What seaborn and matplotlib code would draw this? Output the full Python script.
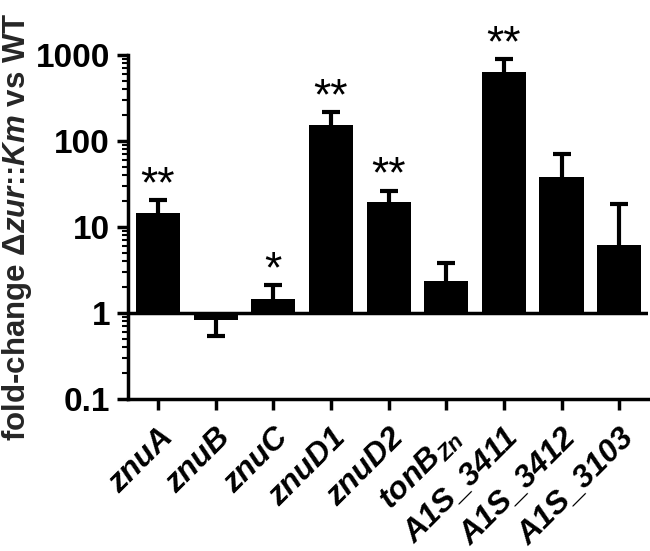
import numpy as np
import pandas as pd
import matplotlib
matplotlib.use("Agg")
import matplotlib.pyplot as plt
import seaborn as sns
from matplotlib.ticker import LogLocator, NullFormatter

genes = ["znuA", "znuB", "znuC", "znuD1", "znuD2", "tonBZn", "A1S_3411", "A1S_3412", "A1S_3103"]
tick_labels = ["znuA", "znuB", "znuC", "znuD1", "znuD2", r"tonB$_{\mathit{Zn}}$",
               "A1S_3411", "A1S_3412", "A1S_3103"]
fold_change = [14.5, 0.82, 1.45, 153, 19.6, 2.36, 626, 37.8, 6.1]
error_end = [20.7, 0.54, 2.12, 218, 26.5, 3.84, 899, 71.4, 18.3]
stars = ["**", "", "*", "**", "**", "", "**", "", ""]
y_ticks = [0.1, 1, 10, 100, 1000]
y_tick_labels = ["0.1", "1", "10", "100", "1000"]

sns.set_theme(style="ticks")
plt.rcParams['font.family'] = ['Liberation Sans', 'DejaVu Sans']
plt.rcParams['mathtext.fontset'] = 'custom'
plt.rcParams['mathtext.rm'] = 'Liberation Sans:bold'
plt.rcParams['mathtext.it'] = 'Liberation Sans:italic:bold'
plt.rcParams['mathtext.bf'] = 'Liberation Sans:bold'

fig = plt.figure(figsize=(6.5, 5.51), dpi=100)
ax = fig.add_axes([128 / 650, 1 - 399 / 551, 520 / 650, 344 / 551])

df = pd.DataFrame({"gene": genes, "fc": fold_change})
sns.barplot(data=df, x="gene", y="fc", color="black", width=0.765, errorbar=None,
            ax=ax, saturation=1, linewidth=0, zorder=3)
ax.set_yscale("log")
for p, v in zip(ax.patches, fold_change):
    p.set_y(1)
    p.set_height(v - 1)

x = np.arange(len(genes))
fc = np.array(fold_change)
ee = np.array(error_end)
lo = np.where(ee < fc, fc - ee, 0)
hi = np.where(ee > fc, ee - fc, 0)
ax.errorbar(x, fc, yerr=[lo, hi], fmt='none', ecolor='black', elinewidth=3.0,
            capsize=0, zorder=2)
ax.plot(x, ee, ls='none', marker='_', ms=13.5, mew=3.0, color='black', zorder=2)

ax.axhline(1, color='black', lw=2.5, zorder=4)

for i, s in enumerate(stars):
    if s:
        ax.annotate(s, xy=(i, error_end[i]), xytext=(0, 2), textcoords='offset points',
                    ha='center', va='baseline', fontsize=32, color='black',
                    annotation_clip=False)

ax.set_ylim(0.1, 1000)
ax.set_xlim(-0.52, 8.5)
ax.set_yticks(y_ticks)
ax.set_yticklabels(y_tick_labels, fontsize=24, fontweight='bold')
ax.yaxis.set_minor_locator(LogLocator(base=10, subs=np.arange(2, 10)))
ax.yaxis.set_minor_formatter(NullFormatter())
ax.set_xticks(x)
ax.set_xticklabels(tick_labels, rotation=45, ha='right', va='top', rotation_mode='anchor',
                   fontsize=23, fontweight='bold', fontstyle='italic')
ax.set_xlabel("")
ax.set_ylabel("fold-change Δ$\\it{zur}$::$\\it{Km}$ vs WT", fontsize=22.5, fontweight='bold')
ax.yaxis.set_label_coords(-0.181, 0.5)

for sp in ['top', 'right']:
    ax.spines[sp].set_visible(False)
for sp in ['left', 'bottom']:
    ax.spines[sp].set_linewidth(2.5)
    ax.spines[sp].set_color('black')
ax.tick_params(axis='both', which='major', length=8, width=2.5, color='black',
               labelcolor='black')
ax.tick_params(axis='y', which='major', pad=5)
ax.tick_params(axis='x', which='major', pad=9)
ax.tick_params(axis='y', which='minor', length=4, width=1.5, color='black')
ax.set_facecolor('white')
fig.patch.set_facecolor('white')

fig.savefig("out.png", dpi=100)
